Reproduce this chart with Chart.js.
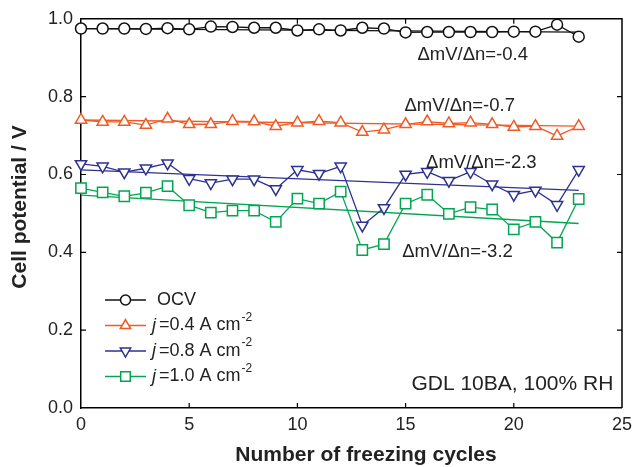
<!DOCTYPE html>
<html>
<head>
<meta charset="utf-8">
<script src="https://cdn.jsdelivr.net/npm/chart.js@4.4.1/dist/chart.umd.min.js"></script>
<style>
  html, body { margin: 0; padding: 0; background: #fff; }
</style>
</head>
<body>
<canvas id="chart" width="638" height="467"></canvas>
<script>
  const cycles = [0, 1, 2, 3, 4, 5, 6, 7, 8, 9, 10, 11, 12, 13, 14, 15, 16, 17, 18, 19, 20, 21, 22, 23];
  const ocv = [0.975, 0.975, 0.975, 0.974, 0.976, 0.973, 0.980, 0.979, 0.977, 0.977, 0.970, 0.973, 0.970, 0.977, 0.975, 0.965, 0.966, 0.966, 0.966, 0.966, 0.967, 0.967, 0.985, 0.954];
  const j04 = [0.740, 0.735, 0.735, 0.727, 0.743, 0.729, 0.729, 0.737, 0.736, 0.724, 0.733, 0.737, 0.733, 0.709, 0.715, 0.729, 0.736, 0.731, 0.733, 0.729, 0.722, 0.724, 0.699, 0.724];
  const j08 = [0.627, 0.621, 0.606, 0.616, 0.629, 0.589, 0.578, 0.588, 0.588, 0.563, 0.612, 0.602, 0.621, 0.469, 0.514, 0.600, 0.607, 0.584, 0.607, 0.575, 0.548, 0.559, 0.522, 0.612];
  const j10 = [0.565, 0.554, 0.544, 0.553, 0.570, 0.521, 0.502, 0.507, 0.507, 0.478, 0.538, 0.525, 0.556, 0.406, 0.421, 0.525, 0.548, 0.499, 0.516, 0.510, 0.459, 0.478, 0.425, 0.537];

  // fitted lines, read at both ends
  const trendX = [0, 23];
  const trendOcv = [0.975, 0.966];
  const trendJ04 = [0.740, 0.724];
  const trendJ08 = [0.612, 0.559];
  const trendJ10 = [0.547, 0.474];

  const slopeLabels = ["\u0394mV/\u0394n=-0.4", "\u0394mV/\u0394n=-0.7", "\u0394mV/\u0394n=-2.3", "\u0394mV/\u0394n=-3.2"];
  const slopeAt = [[18.1, 0.906], [17.5, 0.776], [18.5, 0.631], [17.4, 0.402]];
  const legendNames = ["0.4", "0.8", "1.0"];

  const BLACK = '#111111', RED = '#f15a24', BLUE = '#2e3192', GREEN = '#00a651';
  const FONT = "'Liberation Sans', Arial, Helvetica, sans-serif";

  const toPoints = (ys, xs) => ys.map((y, i) => ({ x: xs[i], y }));

  const series = (label, ys, color, style, radius, rotation) => ({
    label, data: toPoints(ys, cycles), borderColor: color, backgroundColor: '#ffffff',
    borderWidth: 1.3, pointStyle: style, pointRadius: radius, pointRotation: rotation || 0,
    pointBorderWidth: 1.5, pointBorderColor: color, pointBackgroundColor: '#ffffff',
    tension: 0, clip: false
  });
  const trend = (ys, color) => ({
    label: '', data: toPoints(ys, trendX), borderColor: color, borderWidth: 1.3,
    pointRadius: 0, tension: 0, clip: false
  });

  const datasets = [
    series('OCV', ocv, BLACK, 'circle', 5.5),
    series('j=0.4 A cm-2', j04, RED, 'triangle', 6.5),
    series('j=0.8 A cm-2', j08, BLUE, 'triangle', 6.5, 180),
    series('j=1.0 A cm-2', j10, GREEN, 'rect', 7.3),
    trend(trendOcv, BLACK),
    trend(trendJ04, RED),
    trend(trendJ08, BLUE),
    trend(trendJ10, GREEN)
  ];

  const framePlugin = {
    id: 'frame',
    beforeDatasetsDraw(chart) {
      const { ctx, chartArea: a, scales } = chart;
      ctx.save();
      ctx.strokeStyle = '#000';
      ctx.lineWidth = 1.5;
      ctx.beginPath();
      ctx.moveTo(a.left, a.top); ctx.lineTo(a.right, a.top); ctx.lineTo(a.right, a.bottom);
      ctx.stroke();
      ctx.lineWidth = 1.2;
      const tl = 5;
      ctx.beginPath();
      for (let v = 5; v < 25; v += 5) {
        const px = scales.x.getPixelForValue(v);
        ctx.moveTo(px, a.bottom); ctx.lineTo(px, a.bottom - tl);
        ctx.moveTo(px, a.top); ctx.lineTo(px, a.top + tl);
      }
      for (let v = 0.2; v < 0.99; v += 0.2) {
        const py = scales.y.getPixelForValue(v);
        ctx.moveTo(a.left, py); ctx.lineTo(a.left + tl, py);
        ctx.moveTo(a.right, py); ctx.lineTo(a.right - tl, py);
      }
      ctx.stroke();
      ctx.restore();
    },
    afterDatasetsDraw(chart) {
      const { ctx, scales } = chart;
      ctx.save();
      ctx.fillStyle = '#222';
      ctx.textBaseline = 'middle';

      // slope labels
      ctx.font = '18.5px ' + FONT;
      ctx.textAlign = 'center';
      slopeLabels.forEach((t, i) => {
        ctx.fillText(t, scales.x.getPixelForValue(slopeAt[i][0]), scales.y.getPixelForValue(slopeAt[i][1]));
      });
      ctx.font = '21px ' + FONT;
      ctx.textAlign = 'right';
      ctx.fillText('GDL 10BA, 100% RH', scales.x.getPixelForValue(24.6), scales.y.getPixelForValue(0.062));

      // legend
      const rowY = [300, 325.5, 351, 376.5];
      ctx.textAlign = 'left';
      for (let i = 0; i < 4; i++) {
        const ds = chart.data.datasets[i];
        const y = rowY[i];
        ctx.strokeStyle = ds.borderColor;
        ctx.lineWidth = 1.3;
        ctx.beginPath(); ctx.moveTo(105, y); ctx.lineTo(146, y); ctx.stroke();
        ctx.fillStyle = '#ffffff';
        ctx.lineWidth = 1.5;
        Chart.helpers.drawPoint(ctx, { pointStyle: ds.pointStyle, radius: ds.pointRadius - 0.5, rotation: ds.pointRotation, borderWidth: 1.5 }, 125.5, y);
        ctx.fillStyle = '#222';
        if (i === 0) {
          ctx.font = '18px ' + FONT;
          ctx.fillText('OCV', 157, y);
        } else {
          ctx.font = 'italic 18px ' + FONT;
          ctx.fillText('j', 152, y);
          let x = 152 + ctx.measureText('j').width + 3;
          ctx.font = '18px ' + FONT;
          const s = '=' + legendNames[i - 1] + ' A cm';
          ctx.fillText(s, x, y);
          x += ctx.measureText(s).width + 1;
          ctx.font = '12px ' + FONT;
          ctx.fillText('-2', x, y - 8);
        }
      }

      // axis titles
      ctx.fillStyle = '#222';
      ctx.font = 'bold 21px ' + FONT;
      ctx.textAlign = 'center';
      ctx.fillText('Number of freezing cycles', 366, 455);
      ctx.translate(20, 207);
      ctx.rotate(-Math.PI / 2);
      ctx.fillText('Cell potential / V', 0, 0);
      ctx.restore();
    }
  };

  new Chart(document.getElementById('chart').getContext('2d'), {
    type: 'line',
    data: { datasets },
    plugins: [framePlugin],
    options: {
      responsive: false,
      animation: false,
      devicePixelRatio: 1,
      layout: { padding: { top: 15, right: 8, left: 0, bottom: 0 } },
      plugins: { legend: { display: false }, tooltip: { enabled: false } },
      scales: {
        x: {
          type: 'linear', min: 0, max: 25,
          afterFit: (s) => { s.height = 59; },
          ticks: { stepSize: 5, padding: 6, color: '#222', font: { size: 18, family: FONT } },
          grid: { display: false, drawTicks: false },
          border: { display: true, color: '#000', width: 1.5 }
        },
        y: {
          min: 0, max: 1,
          afterFit: (s) => { s.width = 81; },
          ticks: { stepSize: 0.2, padding: 8, color: '#222', font: { size: 18, family: FONT },
                   callback: (v) => v.toFixed(1) },
          grid: { display: false, drawTicks: false },
          border: { display: true, color: '#000', width: 1.5 }
        }
      }
    }
  });
</script>
</body>
</html>
